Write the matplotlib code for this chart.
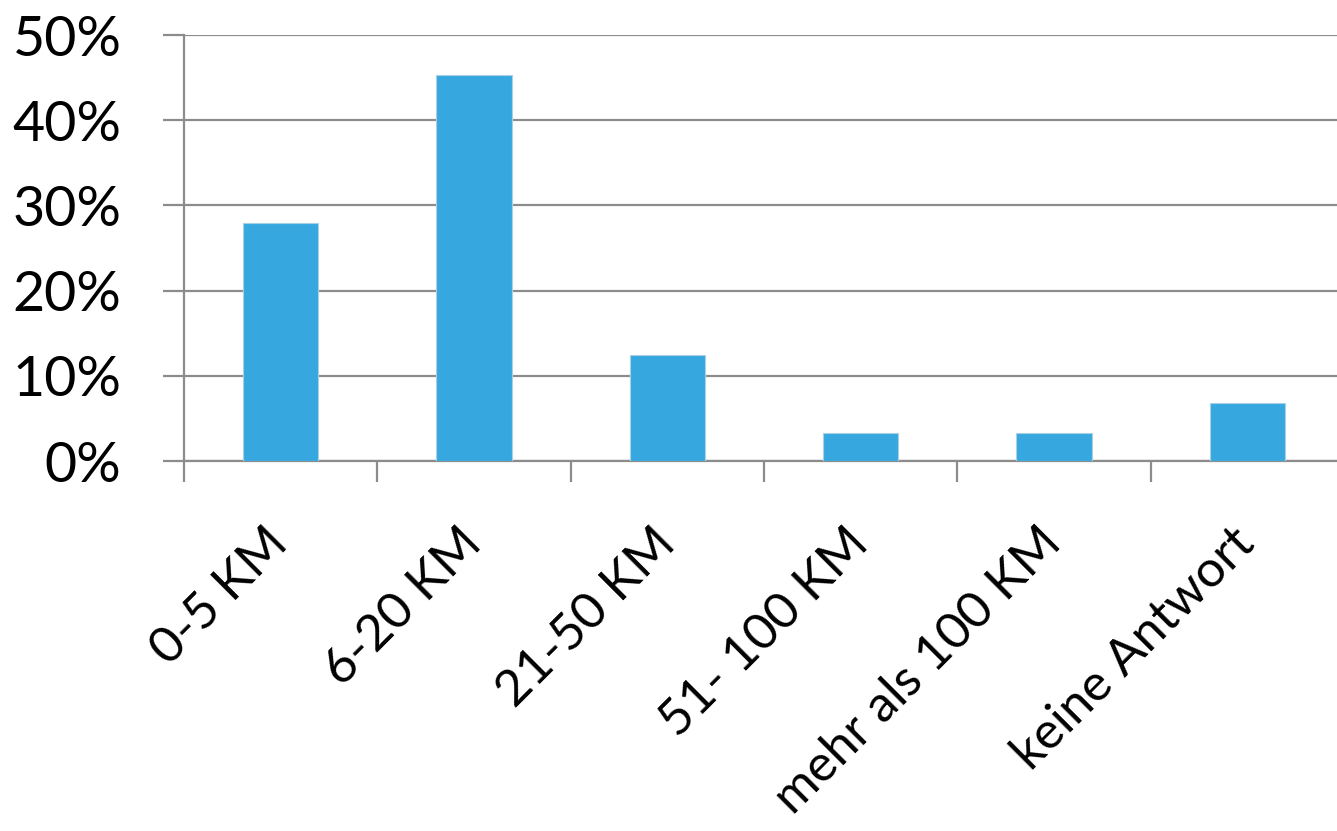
import matplotlib.pyplot as plt
from matplotlib.ticker import FixedLocator, PercentFormatter

categories = ['0-5 KM', '6-20 KM', '21-50 KM', '51- 100 KM', 'mehr als 100 KM', 'keine Antwort']
values = [27.9, 45.3, 12.5, 3.3, 3.3, 6.8]
yticks = [0, 10, 20, 30, 40, 50]

plt.rcParams['font.family'] = ['Lato', 'DejaVu Sans']
grey = '#8c8c8c'
bar_color = '#36a8df'

fig = plt.figure(figsize=(13.37, 8.31), dpi=100)
ax = fig.add_axes([184 / 1337, 1 - 461 / 831, 1160 / 1337, (461 - 35) / 831])

x = list(range(len(categories)))
ax.bar(x, values, width=0.39, color=bar_color, edgecolor='#a9cfe3', linewidth=0.8, zorder=3)

ax.set_xlim(-0.5, len(categories) - 0.5)
ax.set_ylim(0, 50)
ax.set_yticks(yticks)
ax.yaxis.set_major_formatter(PercentFormatter(decimals=0))
ax.grid(axis='y', color=grey, linewidth=1.6, zorder=0)

# labels at bar centres, tick marks at category boundaries
ax.set_xticks(x)
ax.set_xticklabels(categories, rotation=45, ha='right', va='center', rotation_mode='anchor')
ax.xaxis.set_minor_locator(FixedLocator([i - 0.5 for i in range(len(categories) + 1)]))
ax.tick_params(axis='x', which='major', length=0, pad=54, labelsize=36.5)
ax.tick_params(axis='x', which='minor', length=15, width=1.6, color=grey)
ax.tick_params(axis='y', length=15, width=1.6, color=grey, pad=30, labelsize=40)

for side in ['top', 'right']:
    ax.spines[side].set_visible(False)
for side in ['left', 'bottom']:
    ax.spines[side].set_color(grey)
    ax.spines[side].set_linewidth(1.6)

fig.savefig('out.png', dpi=100)
